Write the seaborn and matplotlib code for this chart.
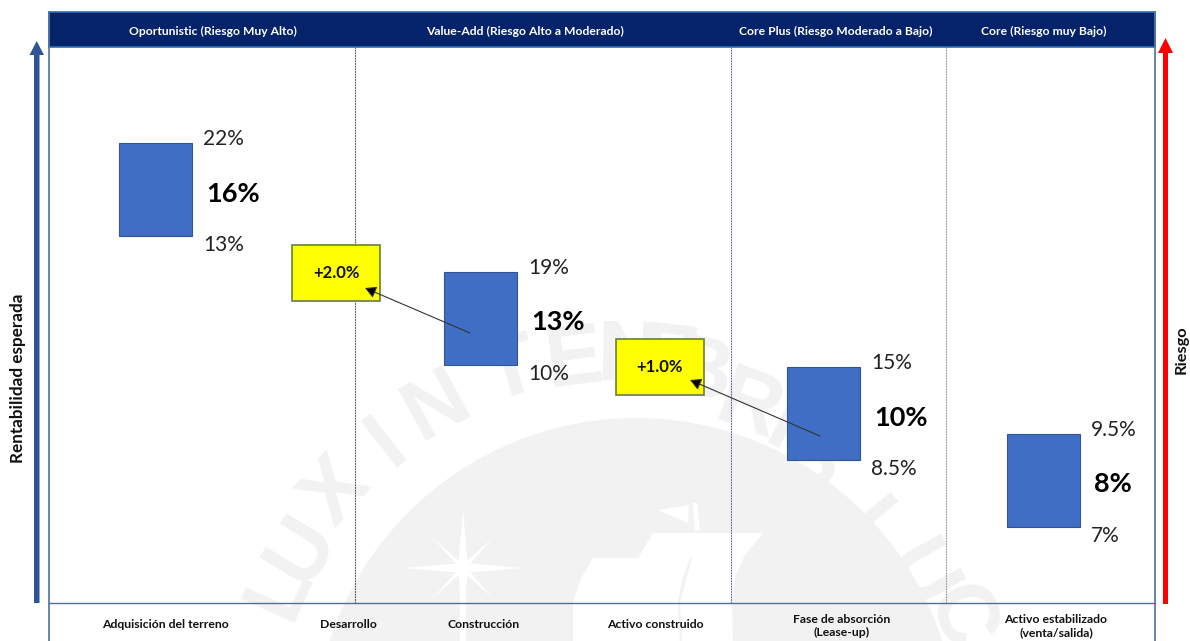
import numpy as np
import matplotlib
matplotlib.use("Agg")
import matplotlib.pyplot as plt
from matplotlib.patches import Circle, Polygon, Rectangle
import seaborn as sns

sns.set_theme(style="white")
plt.rcParams["font.family"] = ["Lato", "DejaVu Sans"]

# Phases along the top band
phases = ["Oportunistic (Riesgo Muy Alto)", "Value-Add (Riesgo Alto a Moderado)",
          "Core Plus (Riesgo Moderado a Bajo)", "Core (Riesgo muy Bajo)"]
phase_centers = [213, 525, 836, 1044]

# Stages along the bottom band
stages = ["Adquisición del terreno", "Desarrollo", "Construcción", "Activo construido",
          "Fase de absorción\n(Lease-up)", "Activo estabilizado\n(venta/salida)"]
stage_centers = [165, 348, 484, 655, 842, 1056]

# Return ranges: schematic box extents, measured upwards from the baseline
box_x = [106.5, 431.5, 774.5, 994.5]
box_low = [367, 238, 143, 76]
box_high = [460, 331, 236, 169]
label_high = ["22%", "19%", "15%", "9.5%"]
label_mid = ["16%", "13%", "10%", "8%"]
label_low = ["13%", "10%", "8.5%", "7%"]

# Premiums between phases
premium_x = [287, 610.5]
premium_low = [302, 208]
premium_high = [358, 264]
premium_labels = ["+2.0%", "+1.0%"]
premium_tail = [(421, 270), (771, 167)]
premium_head = [(316, 315), (641, 223)]

phase_breaks = [355, 731, 946]
break_colors = ["#555555", "#5a6a9a", "#9a9a9a"]

fig = plt.figure(figsize=(11.9, 6.41), dpi=100, facecolor="white")
W, H = 1190, 641


def pixel_axes(z):
    a = fig.add_axes([0, 0, 1, 1], zorder=z)
    a.set_xlim(0, W)
    a.set_ylim(H, 0)
    a.axis("off")
    a.patch.set_alpha(0)
    return a


# Institutional seal in the background
seal = pixel_axes(0)
GREY = "#f2f2f2"
seal.add_patch(Circle((636, 740), 322, fc=GREY, ec="none"))
seal_letters = "LUXINTENEBRISLUC"
seal_x = [280, 302, 337, 387, 437, 512, 574, 628, 668, 700, 748, 782, 812, 872, 918, 958]
seal_y = [590, 550, 493, 443, 407, 372, 362, 358, 362, 375, 408, 428, 460, 535, 578, 618]
for ch, lx, ly in zip(seal_letters, seal_x, seal_y):
    angle = np.degrees(np.arctan2(745 - ly, lx - 622)) - 90
    seal.text(lx, ly, ch, fontsize=62, color=GREY, ha="center", va="center",
              rotation=angle, family="Liberation Sans", fontweight="bold", clip_on=True)
# Star
for dx, dy, w in [(0, 1, 5), (1, 0, 5), (0.7, 0.7, 2.5), (0.7, -0.7, 2.5)]:
    L = 58 if dx * dy == 0 else 45
    px, py = -dy * w, dx * w
    seal.add_patch(Polygon([(463 - dx * L, 568 - dy * L), (463 + px, 568 + py),
                            (463 + dx * L, 568 + dy * L), (463 - px, 568 - py)],
                           fc="white", ec="none"))
seal.add_patch(Rectangle((460, 568), 6, 80, fc="white", ec="none"))
# Sails, pennant and mast of the ship
seal.add_patch(Polygon([(638, 558), (653, 533), (763, 533), (745, 555), (735, 577), (732, 603),
                        (733, 645), (682, 645), (680, 603), (692, 558)], fc="white", ec="none"))
seal.add_patch(Polygon([(573, 645), (573, 603), (580, 580), (593, 558), (690, 558), (682, 580),
                        (678, 603), (680, 645)], fc="white", ec="none"))
seal.add_patch(Polygon([(658, 510), (689, 505), (688, 523)], fc="white", ec="none"))
seal.add_patch(Polygon([(693, 503), (697, 503), (700, 530), (695, 530)], fc="white", ec="none"))

# Boxes and premiums on a schematic scale
ax = fig.add_axes([49 / W, 1 - 603 / H, 1106 / W, 556 / H], zorder=1)
ax.patch.set_alpha(0)
sns.barplot(x=box_x, y=np.subtract(box_high, box_low), bottom=box_low, native_scale=True,
            orient="x", width=73 / 220, color="#3f6ec4", saturation=1,
            edgecolor="#2f5597", linewidth=0.8, ax=ax)
sns.barplot(x=premium_x, y=np.subtract(premium_high, premium_low), bottom=premium_low,
            native_scale=True, orient="x", width=88 / 323.5, color="#ffff00", saturation=1,
            edgecolor="#66803c", linewidth=1.2, ax=ax)
ax.set_xlim(0, 1106)
ax.set_ylim(0, 556)
ax.axis("off")

for brk, col in zip(phase_breaks, break_colors):
    ax.plot([brk - 49, brk - 49], [0, 556], color=col, lw=0.8, ls=(0, (1.6, 0.8)), zorder=0.5)

for i, txt in enumerate(premium_labels):
    ax.text(premium_x[i], (premium_low[i] + premium_high[i]) / 2 - 0.5, txt, ha="center",
            va="center", fontsize=12, fontweight="bold", color="#111111")
    ax.annotate("", xy=premium_head[i], xytext=premium_tail[i],
                arrowprops=dict(arrowstyle="-|>,head_length=0.55,head_width=0.3", lw=0.8,
                                color="#333333", fc="black", shrinkA=0, shrinkB=0))

for i, x in enumerate(box_x):
    ax.annotate(label_high[i], (x + 36.5, box_high[i]), xytext=(11, 4), textcoords="offset pixels",
                fontsize=15, va="center", color="#222222")
    ax.annotate(label_mid[i], (x + 36.5, (box_high[i] + box_low[i]) / 2),
                xytext=(14, -4), textcoords="offset pixels", fontsize=19.5, fontweight="bold",
                va="center", color="black")
    ax.annotate(label_low[i], (x + 36.5, box_low[i]), xytext=(11, -9), textcoords="offset pixels",
                fontsize=15, va="center", color="#222222")

# Header band, frame, axis arrows and captions
top = pixel_axes(2)
top.add_patch(Rectangle((49, 12), 1106, 35, fc="#04236a", ec="#2f6fb0", lw=1.2))
top.plot([49, 49], [12, 641], color="#4f6f9f", lw=1.2)
top.plot([1155, 1155], [12, 641], color="#4f6f9f", lw=1.2)
top.plot([49, 1155], [603, 603], color="#4f6f9f", lw=1.0)

for txt, cx in zip(phases, phase_centers):
    top.text(cx, 31, txt, color="white", fontsize=8.75, fontweight="bold", ha="center", va="center")
for txt, cx in zip(stages, stage_centers):
    two_lines = "\n" in txt
    top.text(cx, 626 if two_lines else 625, txt, color="#111111", fontsize=8.85,
             fontweight="bold", ha="center", va="center", linespacing=1.2)

top.add_patch(Polygon([(34, 603), (39.5, 603), (39.5, 55), (44, 55), (36.7, 41), (29.5, 55), (34, 55)],
                      fc="#2f5597", ec="none"))
top.add_patch(Polygon([(1163, 604), (1168, 604), (1168, 53), (1173, 53), (1165.5, 38), (1158, 53), (1163, 53)],
                      fc="#ff0000", ec="none"))
top.text(18, 378, "Rentabilidad esperada", rotation=90, fontsize=12.3, fontweight="bold",
         color="#111111", ha="center", va="center")
top.text(1182, 350, "Riesgo", rotation=90, fontsize=11.8, fontweight="bold",
         color="#111111", ha="center", va="center")

fig.savefig("out.png", dpi=100)
